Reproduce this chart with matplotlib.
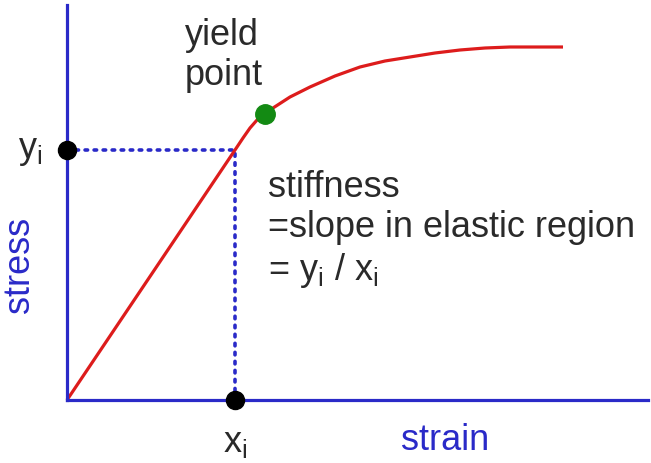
import matplotlib.pyplot as plt

plt.rcParams['font.family'] = ['Liberation Sans', 'DejaVu Sans']
plt.rcParams['mathtext.default'] = 'regular'

# stress-strain curve (arbitrary units)
strain = [0.0, 1.68, 1.76, 1.83, 1.90, 1.98, 2.06, 2.23, 2.43, 2.68, 2.93,
          3.18, 3.43, 3.68, 3.93, 4.18, 4.43, 4.70, 4.96]
stress = [0.0, 2.50, 2.62, 2.72, 2.80, 2.86, 2.92, 3.03, 3.13, 3.24, 3.33,
          3.39, 3.43, 3.47, 3.50, 3.52, 3.53, 3.53, 3.53]

x_i = 1.68
y_i = 2.50
yield_x = 1.98
yield_y = 2.86

blue = '#2a2ac8'
txt = '#2a2a2a'

fig = plt.figure(figsize=(6.51, 4.63), dpi=100)
ax = fig.add_axes([0, 0, 1, 1])
ax.set_xlim(-0.67, 5.84)
ax.set_ylim(-0.63, 4.00)

# axes drawn as spines through the origin
for s in ['top', 'right']:
    ax.spines[s].set_visible(False)
ax.spines['left'].set_position(('data', 0))
ax.spines['bottom'].set_position(('data', 0))
ax.spines['left'].set_bounds(0, 3.95)
ax.spines['bottom'].set_bounds(0, 5.81)
for s in ['left', 'bottom']:
    ax.spines[s].set_color(blue)
    ax.spines[s].set_linewidth(2.3)
ax.set_xticks([])
ax.set_yticks([])
ax.patch.set_visible(False)

# dotted guides
ax.plot([0, x_i], [y_i, y_i], color=blue, lw=2.6, ls=(0, (0.7, 1.8)),
        dash_capstyle='round')
ax.plot([x_i, x_i], [0, y_i], color=blue, lw=2.6, ls=(0, (0.7, 1.8)),
        dash_capstyle='round')

ax.plot(strain, stress, color='#dd1c1c', lw=2.3, solid_capstyle='butt')

ax.plot([0], [y_i], 'o', color='black', ms=13, clip_on=False, zorder=5)
ax.plot([x_i], [0], 'o', color='black', ms=13, clip_on=False, zorder=5)
ax.plot([yield_x], [yield_y], 'o', color='#138a13', ms=14, zorder=5)

fs = 26
ax.text(-0.37, y_i, 'y$_i$', fontsize=fs, color=txt, ha='center', va='center')
ax.text(x_i, -0.42, 'x$_i$', fontsize=fs, color=txt, ha='center', va='center')
ax.text(1.18, 3.82, 'yield\npoint', fontsize=fs, color=txt, ha='left', va='top',
        linespacing=1.2)
ax.text(2.01, 2.30, 'stiffness\n=slope in elastic region\n= y$_i$ / x$_i$',
        fontsize=fs, color=txt, ha='left', va='top', linespacing=1.2)
ax.text(-0.47, 1.35, 'stress', fontsize=fs, color=blue, rotation=90,
        ha='center', va='center')
ax.text(3.78, -0.40, 'strain', fontsize=fs, color=blue, ha='center', va='center')

fig.savefig('out.png', dpi=100)
